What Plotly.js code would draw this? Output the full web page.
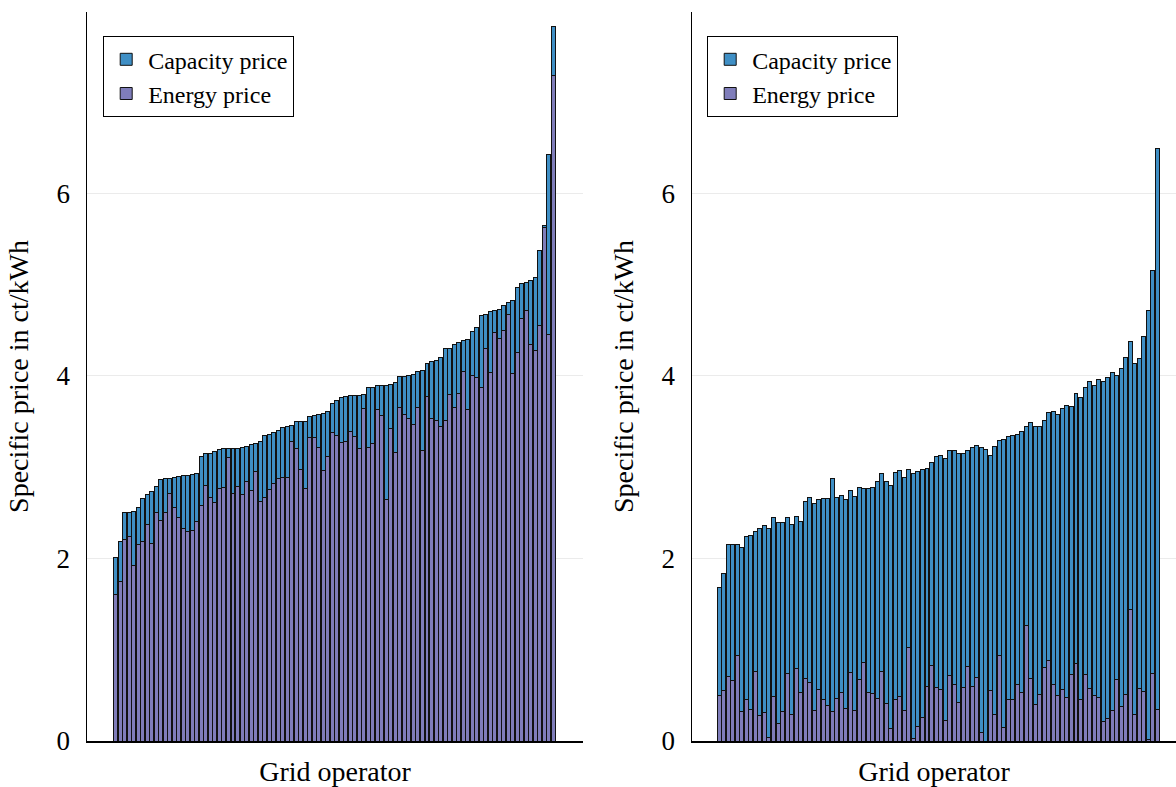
<!DOCTYPE html>
<html>
<head>
<meta charset="utf-8">
<script src="https://cdn.plot.ly/plotly-3.0.1.min.js"></script>
<style>html,body{margin:0;padding:0;background:#fff}#chart{width:1176px;height:787px}</style>
</head>
<body>
<div id="chart"></div>
<script>
// Grid operators (sorted by total specific price)
const operators = Array.from({length: 98}, (_, i) => i + 1);

// Left panel
const energyLeft = [1.61,1.745,2.205,2.245,1.92,2.15,2.19,2.37,2.16,2.505,2.42,2.505,2.71,2.555,2.45,2.33,2.30,2.31,2.40,2.585,
2.80,2.665,2.61,2.765,2.78,3.105,2.71,2.79,2.705,2.845,2.745,2.955,2.62,2.665,2.755,2.82,2.875,2.885,2.885,3.285,
3.20,2.975,2.765,3.32,3.32,3.215,2.965,3.12,3.38,3.345,3.27,3.285,3.39,3.335,3.20,3.64,3.21,3.255,3.63,3.56,
2.64,3.425,3.165,3.65,3.575,3.535,3.465,3.655,3.18,3.775,3.535,3.51,3.44,3.51,3.80,3.655,3.805,4.05,3.635,4.00,
3.98,3.87,4.30,4.04,4.47,4.41,4.50,4.675,4.025,4.25,4.63,4.72,4.345,4.28,4.555,5.63,4.455,7.29];
const capacityLeft = [0.40,0.435,0.295,0.255,0.595,0.41,0.47,0.33,0.57,0.285,0.445,0.365,0.165,0.335,0.445,0.575,0.61,0.605,0.525,0.53,
0.35,0.485,0.56,0.43,0.42,0.095,0.49,0.415,0.505,0.38,0.505,0.305,0.66,0.685,0.60,0.555,0.53,0.55,0.555,0.17,
0.30,0.53,0.74,0.23,0.24,0.365,0.625,0.485,0.315,0.385,0.49,0.485,0.39,0.445,0.58,0.15,0.66,0.615,0.26,0.335,
1.255,0.485,0.765,0.34,0.42,0.47,0.545,0.395,0.875,0.36,0.625,0.66,0.76,0.79,0.50,0.685,0.565,0.335,0.76,0.485,
0.55,0.795,0.37,0.66,0.24,0.32,0.265,0.125,0.795,0.72,0.385,0.305,0.695,0.795,0.815,0.02,1.965,0.54];

// Right panel
const energyRight = [0.50,0.55,0.71,0.66,0.935,0.32,0.455,0.35,0.76,0.28,0.31,0.04,0.49,0.19,0.32,0.735,0.29,0.795,0.53,0.685,
0.64,0.335,0.56,0.455,0.39,0.32,0.465,0.53,0.355,0.745,0.335,0.675,0.86,0.53,0.52,0.465,0.76,0.41,0.14,0.46,
0.485,0.33,1.02,0.025,0.16,0.26,0.60,0.83,0.585,0.56,0.22,0.715,0.62,0.42,0.585,0.815,0.60,0.695,0.095,0.0,
0.55,0.29,0.935,0.15,0.46,0.455,0.62,0.53,1.27,0.685,0.395,0.51,0.81,0.88,0.62,0.50,0.565,0.48,0.73,0.85,
0.455,0.73,0.57,0.50,0.48,0.21,0.25,0.33,0.675,0.38,0.51,1.44,0.295,0.57,0.545,0.02,0.74,0.35];
const capacityRight = [1.18,1.285,1.445,1.495,1.22,1.80,1.785,1.90,1.54,2.05,2.05,2.29,1.96,2.20,2.075,1.71,2.08,1.665,1.87,1.94,
2.03,2.265,2.085,2.20,2.265,2.555,2.20,2.16,2.29,1.995,2.34,2.105,1.91,2.235,2.26,2.375,2.17,2.43,2.66,2.48,
2.475,2.56,1.955,2.90,2.795,2.71,2.385,2.225,2.535,2.57,2.87,2.465,2.56,2.725,2.56,2.365,2.615,2.54,3.12,3.195,
2.58,2.935,2.355,3.15,2.87,2.895,2.735,2.865,2.17,2.805,3.045,2.94,2.70,2.715,2.99,3.08,3.075,3.20,2.935,2.955,
3.305,3.145,3.365,3.39,3.48,3.725,3.73,3.71,3.325,3.705,3.69,2.94,3.835,3.62,3.885,4.69,4.41,6.14];

const seriesNames = ['Capacity price', 'Energy price'];
const yTicks = [0, 2, 4, 6];

const blue = '#3f8fc5';
const purple = '#7f7dba';
const FONT = 'Liberation Serif, Times New Roman, serif';
const outline = {color: '#111', width: 1};

const traces = [
  {type: 'bar', x: operators, y: energyLeft, name: seriesNames[1], marker: {color: purple, line: outline},
   xaxis: 'x', yaxis: 'y', legend: 'legend', hoverinfo: 'y'},
  {type: 'bar', x: operators, y: capacityLeft, name: seriesNames[0], marker: {color: blue, line: outline},
   xaxis: 'x', yaxis: 'y', legend: 'legend', hoverinfo: 'y'},
  {type: 'bar', x: operators, y: energyRight, name: seriesNames[1], marker: {color: purple, line: outline},
   xaxis: 'x2', yaxis: 'y2', legend: 'legend2', hoverinfo: 'y'},
  {type: 'bar', x: operators, y: capacityRight, name: seriesNames[0], marker: {color: blue, line: outline},
   xaxis: 'x2', yaxis: 'y2', legend: 'legend2', hoverinfo: 'y'}
];

const W = 1176, H = 787;
const yDom = [(H - 741) / H, (H - 12) / H];
const xAxisBase = {
  showticklabels: false, ticks: '', showgrid: false, zeroline: false,
  showline: true, linecolor: '#000', linewidth: 1.5,
  title: {text: 'Grid operator', font: {family: FONT, size: 28, color: '#000'}, standoff: 21},
  automargin: false
};
const yAxisBase = {
  domain: yDom, range: [0, 7.985], tickvals: yTicks, ticktext: yTicks.map(String),
  ticks: '', ticklabelstandoff: 10,
  tickfont: {family: FONT, size: 27, color: '#000'},
  showgrid: true, gridcolor: '#ebebeb', gridwidth: 1, zeroline: false,
  showline: true, linecolor: '#000', linewidth: 1.5,
  title: {text: 'Specific price in ct/kWh', font: {family: FONT, size: 28, color: '#000'}, standoff: 20},
  automargin: false
};
const legendBase = {
  xanchor: 'left', yanchor: 'top', y: (H - 36) / H,
  bgcolor: '#fff', bordercolor: '#000', borderwidth: 1.2,
  font: {family: FONT, size: 24, color: '#000'}, traceorder: 'reversed', itemwidth: 34,
  tracegroupgap: 0
};

const layout = {
  width: W, height: H,
  margin: {l: 0, r: 0, t: 0, b: 0},
  paper_bgcolor: '#fff', plot_bgcolor: '#fff',
  font: {family: FONT, color: '#000'},
  barmode: 'stack', bargap: 0.12,
  showlegend: true,
  xaxis: Object.assign({}, xAxisBase, {domain: [87 / W, 583 / W], range: [-5.36, 104.58], anchor: 'y'}),
  xaxis2: Object.assign({}, xAxisBase, {domain: [692 / W, 1], range: [-5.05, 102.15], anchor: 'y2'}),
  yaxis: Object.assign({}, yAxisBase, {anchor: 'x'}),
  yaxis2: Object.assign({}, yAxisBase, {anchor: 'x2'}),
  legend: Object.assign({}, legendBase, {x: 103 / W}),
  legend2: Object.assign({}, legendBase, {x: 707 / W})
};

Plotly.newPlot('chart', traces, layout, {staticPlot: true, displayModeBar: false});
</script>
</body>
</html>
